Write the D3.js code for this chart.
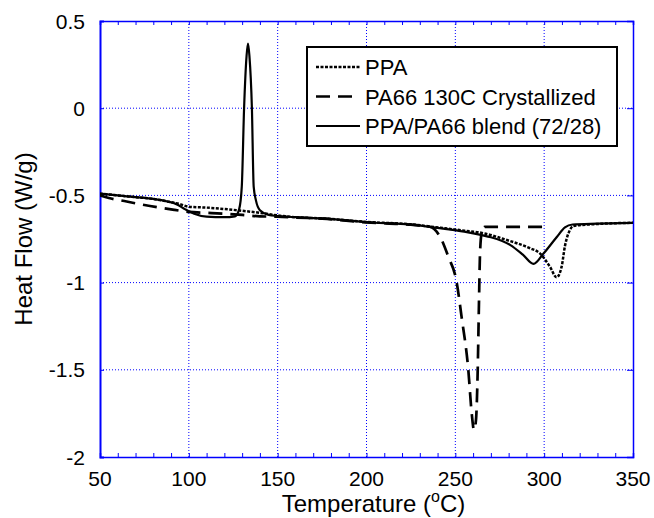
<!DOCTYPE html>
<html><head><meta charset="utf-8">
<script src="https://cdn.jsdelivr.net/npm/d3@7"></script>
<style>
body{margin:0;background:#fff;}
text{font-family:"Liberation Sans",Arial,sans-serif;fill:#000;}
</style></head>
<body><svg id="c" width="654" height="518"></svg>
<script>
// ---- data ----
const xTicks = [50,100,150,200,250,300,350];
const yTicks = [0.5,0,-0.5,-1,-1.5,-2];
const xTickLabels = ["50","100","150","200","250","300","350"];
const yTickLabels = ["0.5","0","-0.5","-1","-1.5","-2"];
const seriesNames = ["PPA","PA66 130C Crystallized","PPA/PA66 blend (72/28)"];

const ppa = [[50,-0.49],[60,-0.5],[70,-0.51],[80,-0.52],[88,-0.535],[95,-0.55],[100,-0.565],[110,-0.57],[120,-0.578],[130,-0.588],[140,-0.6],[150,-0.615],[160,-0.625],[175,-0.632],[200,-0.652],[225,-0.666],[241,-0.685],[255,-0.702],[265,-0.715],[279,-0.756],[292,-0.803],[297.6,-0.832],[303.3,-0.91],[307,-0.97],[309.8,-0.91],[311.7,-0.79],[314.5,-0.698],[316.5,-0.675],[330,-0.664],[350,-0.657]];

const pa66 = [[50,-0.5],[55,-0.515],[65,-0.535],[75,-0.555],[85,-0.572],[92,-0.583],[100,-0.595],[110,-0.6],[120,-0.605],[130,-0.612],[140,-0.62],[150,-0.622],[160,-0.627],[175,-0.633],[200,-0.655],[225,-0.668],[235.7,-0.68],[241.4,-0.737],[246,-0.85],[250.7,-0.995],[253.5,-1.195],[257.3,-1.5],[259.2,-1.748],[260.5,-1.845],[261.6,-1.79],[262.6,-1.5],[263.3,-1.117],[263.9,-0.832],[264.8,-0.717],[266.5,-0.68],[270,-0.68],[300,-0.68]];

const blend = [[50,-0.49],[60,-0.5],[70,-0.51],[80,-0.52],[88,-0.535],[93,-0.55],[98,-0.58],[103,-0.605],[110,-0.622],[120,-0.625],[126,-0.62],[128.3,-0.58],[129.8,-0.45],[131.1,0],[132.5,0.3],[133.3,0.37],[134.1,0.3],[135.5,0],[136.5,-0.45],[137.8,-0.53],[140,-0.585],[145,-0.612],[150,-0.618],[160,-0.625],[175,-0.632],[200,-0.654],[225,-0.668],[241,-0.688],[255,-0.708],[265,-0.728],[270,-0.74],[281,-0.785],[288,-0.84],[294,-0.893],[299.5,-0.835],[307,-0.74],[311.7,-0.683],[316,-0.667],[330,-0.662],[350,-0.657]];

// ---- layout ----
const svg = d3.select("#c");
const L=100, R=633, T=21, B=457;
const x = d3.scaleLinear().domain([50,350]).range([L,R]);
const y = d3.scaleLinear().domain([-2,0.5]).range([B,T]);
const blue = "#0000ff";

// grid
const g = svg.append("g");
g.selectAll(".gx").data(xTicks.slice(1,-1)).enter().append("line")
 .attr("x1",d=>x(d)).attr("x2",d=>x(d)).attr("y1",T).attr("y2",B)
 .attr("stroke",blue).attr("stroke-width",1).attr("stroke-dasharray","1,2");
g.selectAll(".gy").data(yTicks.slice(1,-1)).enter().append("line")
 .attr("y1",d=>y(d)).attr("y2",d=>y(d)).attr("x1",L).attr("x2",R)
 .attr("stroke",blue).attr("stroke-width",1).attr("stroke-dasharray","1,2");

// axes with inward ticks
const minorX = d3.range(50,351,10);
const xb = d3.axisBottom(x).tickValues(minorX).tickSize(-4).tickFormat("");
const xt = d3.axisTop(x).tickValues(minorX).tickSize(-4).tickFormat("");
const yl = d3.axisLeft(y).tickValues(yTicks).tickSize(-4).tickFormat("");
const yr = d3.axisRight(y).tickValues(yTicks).tickSize(-6).tickFormat("");
function style(sel){sel.selectAll("path,line").attr("stroke",blue);sel.select("path").attr("stroke-width",1.5);}
svg.append("g").attr("transform",`translate(0,${B})`).call(xb).call(style);
svg.append("g").attr("transform",`translate(0,${T})`).call(xt).call(style);
svg.append("g").attr("transform",`translate(${L},0)`).call(yl).call(style).select("path").attr("stroke-width",2);
svg.append("g").attr("transform",`translate(${R},0)`).call(yr).call(style);

// tick labels
svg.append("g").selectAll("text").data(xTicks).enter().append("text")
 .attr("x",d=>x(d)).attr("y",486).attr("text-anchor","middle").attr("font-size",21)
 .text((d,i)=>xTickLabels[i]);
svg.append("g").selectAll("text").data(yTicks).enter().append("text")
 .attr("x",85).attr("y",d=>y(d)+7.5).attr("text-anchor","end").attr("font-size",21)
 .text((d,i)=>yTickLabels[i]);

// axis titles
const xt2 = svg.append("text").attr("x",(L+R)/2+7).attr("y",512).attr("text-anchor","middle").attr("font-size",24);
xt2.append("tspan").text("Temperature (");
xt2.append("tspan").attr("font-size",16).attr("dy",-10).text("o");
xt2.append("tspan").attr("dy",10).text("C)");
svg.append("text").attr("transform",`translate(32,${(T+B)/2}) rotate(-90)`).attr("text-anchor","middle").attr("font-size",24).text("Heat Flow (W/g)");

// lines
const line = d3.line().x(d=>x(d[0])).y(d=>y(d[1])).curve(d3.curveMonotoneX);
const styles = [
  {data:ppa, dash:"3,1.5", w:2.5},
  {data:pa66, dash:"14,8", w:2.7},
  {data:blend, dash:null, w:2.2}
];
svg.append("clipPath").attr("id","cp").append("rect").attr("x",L).attr("y",T).attr("width",R-L).attr("height",B-T);
styles.forEach(s=>{
  svg.append("path").datum(s.data).attr("d",line).attr("fill","none").attr("stroke","#000")
   .attr("stroke-width",s.w).attr("stroke-dasharray",s.dash).attr("clip-path","url(#cp)");
});

// legend
const lg = svg.append("g");
lg.append("rect").attr("x",307).attr("y",47).attr("width",310).attr("height",99).attr("fill","#fff").attr("stroke","#000").attr("stroke-width",2);
const rows=[67,96.5,126];
styles.forEach((s,i)=>{
  lg.append("line").attr("x1",316).attr("x2",360).attr("y1",rows[i]).attr("y2",rows[i])
   .attr("stroke","#000").attr("stroke-width",s.w).attr("stroke-dasharray",s.dash);
  lg.append("text").attr("x",365).attr("y",rows[i]+8).attr("font-size",22).text(seriesNames[i]);
});
</script></body></html>
